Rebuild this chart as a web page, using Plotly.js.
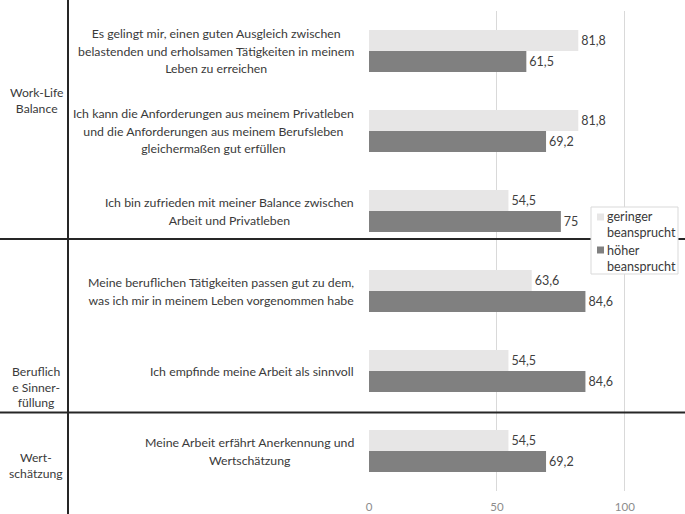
<!DOCTYPE html>
<html>
<head>
<meta charset="utf-8">
<script src="https://cdn.plot.ly/plotly-3.0.1.min.js"></script>
<style>
  html, body { margin: 0; padding: 0; background: #fff; }
  #chart { width: 685px; height: 514px; }
</style>
</head>
<body>
<div id="chart"></div>
<script>
// ===== Daten =====
const aussagen = [
  "Es gelingt mir, einen guten Ausgleich zwischen<br>belastenden und erholsamen Tätigkeiten in meinem<br>Leben zu erreichen",
  "Ich kann die Anforderungen aus meinem Privatleben<br>und die Anforderungen aus meinem Berufsleben<br>gleichermaßen gut erfüllen",
  "Ich bin zufrieden mit meiner Balance zwischen<br>Arbeit und Privatleben",
  "Meine beruflichen Tätigkeiten passen gut zu dem,<br>was ich mir in meinem Leben vorgenommen habe",
  "Ich empfinde meine Arbeit als sinnvoll",
  "Meine Arbeit erfährt Anerkennung und<br>Wertschätzung"
];
const geringer = [81.8, 81.8, 54.5, 63.6, 54.5, 54.5];
const hoeher = [61.5, 69.2, 75, 84.6, 84.6, 69.2];
const serienNamen = ["geringer<br>beansprucht", "höher<br>beansprucht"];
const gruppen = ["Work-Life<br>Balance", "Beruflich<br>e Sinner-<br>füllung", "Wert-<br>schätzung"];
const xTicks = [0, 50, 100];

// ===== Layout-Helfer (Pixel -> Paper) =====
const W = 685, H = 514;
const M = { l: 369, r: 9, t: 11, b: 23 };
const PW = W - M.l - M.r, PH = H - M.t - M.b;
const px = v => (v - M.l) / PW;
const py = v => 1 - (v - M.t) / PH;

const FONT = "Lato, 'Liberation Sans', sans-serif";
const hell = "#e7e6e6";
const dunkel = "#808080";

function fmt(v) {
  return String(v).replace(".", ",");
}

// kleinere Schrift bei größerem Zeilenabstand (Zeilenabstand kommt vom äußeren font.size)
function klein(txt, size) {
  return txt.split("<br>").map(z => `<span style="font-size:${size}px">${z}</span>`).join("<br>");
}

const data = [
  {
    type: "bar", orientation: "h", name: serienNamen[0],
    y: aussagen, x: geringer,
    text: geringer.map(fmt), textposition: "outside", cliponaxis: false,
    marker: { color: hell },
    textfont: { family: FONT, size: 12.5, color: "#404040" },
    hoverinfo: "x", showlegend: false
  },
  {
    type: "bar", orientation: "h", name: serienNamen[1],
    y: aussagen, x: hoeher,
    text: hoeher.map(fmt), textposition: "outside", cliponaxis: false,
    marker: { color: dunkel },
    textfont: { family: FONT, size: 12.5, color: "#404040" },
    hoverinfo: "x", showlegend: false
  }
];

// Beschriftung der Aussagen (zentriert, rechtsbündig an der Achse)
const annotations = aussagen.map(a => ({
  xref: "paper", yref: "y", x: px(356), y: a,
  xanchor: "right", yanchor: "middle", align: "center",
  text: klein(a, 12.3), showarrow: false,
  font: { family: FONT, size: 13.5, color: "#3a3a3a" }
}));

// Gruppenbeschriftung
const gruppenY = [100, 387, 465];
gruppen.forEach((g, i) => {
  annotations.push({
    xref: "paper", yref: "paper", x: px(36), y: py(gruppenY[i]),
    xanchor: "center", yanchor: "middle", align: "center",
    text: klein(g, 12.2), showarrow: false,
    font: { family: FONT, size: 12, color: "#3a3a3a" }
  });
});

// Legende (manuell)
const legY = [224.5, 258];
serienNamen.forEach((n, i) => {
  annotations.push({
    xref: "paper", yref: "paper", x: px(605), y: py(legY[i]),
    xanchor: "left", yanchor: "middle", align: "left",
    text: klein(n, 12.6), showarrow: false,
    font: { family: FONT, size: 12.5, color: "#3a3a3a" }
  });
});

const linie = { color: "#262626", width: 2 };
const shapes = [
  { type: "line", xref: "paper", yref: "paper", x0: px(68), x1: px(68), y0: py(0), y1: py(514), line: linie, layer: "above" },
  { type: "line", xref: "paper", yref: "paper", x0: px(0), x1: px(685), y0: py(239), y1: py(239), line: linie, layer: "above" },
  { type: "line", xref: "paper", yref: "paper", x0: px(0), x1: px(685), y0: py(412.5), y1: py(412.5), line: linie, layer: "above" },
  { type: "rect", xref: "paper", yref: "paper", x0: px(591), x1: px(678), y0: py(207), y1: py(274),
    line: { color: "#d9d9d9", width: 1 }, fillcolor: "#fff", layer: "above" },
  { type: "rect", xref: "paper", yref: "paper", x0: px(597), x1: px(604), y0: py(213.5), y1: py(220.5),
    line: { width: 0 }, fillcolor: hell, layer: "above" },
  { type: "rect", xref: "paper", yref: "paper", x0: px(597), x1: px(604), y0: py(246.5), y1: py(253.5),
    line: { width: 0 }, fillcolor: dunkel, layer: "above" }
];

const layout = {
  width: W, height: H,
  margin: M,
  paper_bgcolor: "#fff", plot_bgcolor: "#fff",
  barmode: "group", bargap: 0.475, bargroupgap: 0,
  showlegend: false,
  font: { family: FONT, size: 12, color: "#404040" },
  xaxis: {
    range: [0, 120], tickvals: xTicks, ticktext: xTicks.map(String),
    showgrid: true, gridcolor: "#d9d9d9", gridwidth: 1,
    zeroline: false, showline: false,
    ticks: "outside", ticklen: 5, tickcolor: "rgba(0,0,0,0)",
    tickfont: { family: FONT, size: 11.5, color: "#8c8c8c" }
  },
  yaxis: {
    autorange: "reversed", showticklabels: false, showgrid: false,
    zeroline: false, showline: false, ticks: ""
  },
  annotations, shapes
};

Plotly.newPlot("chart", data, layout, { displayModeBar: false, staticPlot: true });
</script>
</body>
</html>
